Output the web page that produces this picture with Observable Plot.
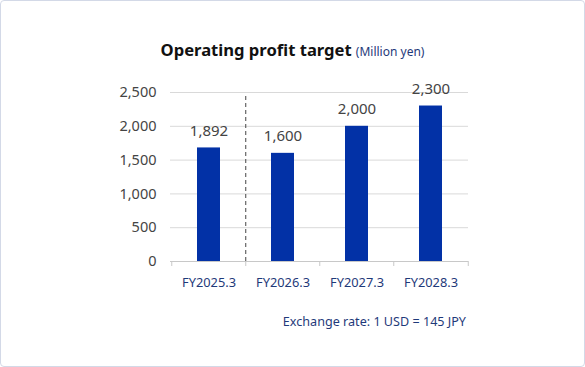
<!DOCTYPE html>
<html><head><meta charset="utf-8">
<script src="https://cdn.jsdelivr.net/npm/d3@7"></script>
<script src="https://cdn.jsdelivr.net/npm/@observablehq/plot@0.6"></script>
<style>
body{margin:0;background:#fff;}
#wrap{position:relative;width:585px;height:367px;overflow:hidden;font-family:"Noto Sans",sans-serif;background:#fff;}
#frame{position:absolute;left:0;top:0;width:585px;height:367px;border:1px solid #d3d9e7;border-radius:4px;box-sizing:border-box;pointer-events:none;}
#chart{position:absolute;left:0;top:0;}
#title{position:absolute;left:0;width:585px;top:38px;text-align:center;white-space:nowrap;line-height:24px;}
#title .main{font-weight:bold;font-size:16.6px;color:#111;}
#title .unit{font-size:12px;color:#1f3a7a;}
#caption{position:absolute;right:119px;top:312px;font-size:12.6px;color:#1f3a7a;line-height:20px;white-space:nowrap;}
</style>
</head><body>
<div id="wrap">
  <div id="chart"></div>
  <div id="title"><span class="main">Operating profit target</span> <span class="unit">(Million yen)</span></div>
  <div id="caption">Exchange rate: 1 USD = 145 JPY</div>
  <div id="frame"></div>
</div>
<script>
const categories = ["FY2025.3", "FY2026.3", "FY2027.3", "FY2028.3"];
const values = [1680, 1600, 2000, 2300];
const valueLabels = ["1,892", "1,600", "2,000", "2,300"];
const yTicks = [0, 500, 1000, 1500, 2000, 2500];
const splitCategory = "FY2026.3";

const data = categories.map((c, i) => ({cat: c, value: values[i], label: valueLabels[i]}));

const W = 585, H = 367, ML = 170, MR = 117, MT = 92, MB = 106;
const step = (W - ML - MR) / categories.length;

const chart = Plot.plot({
  width: W, height: H,
  marginTop: MT, marginBottom: MB, marginLeft: ML, marginRight: MR,
  x: {domain: categories, paddingInner: 0.69, paddingOuter: 0.345, label: null},
  y: {domain: [0, 2500], label: null},
  style: {fontFamily: "'Noto Sans', sans-serif", background: "transparent", overflow: "visible"},
  marks: [
    Plot.gridY(yTicks, {stroke: "#d9d9d9", strokeOpacity: 1}),
    Plot.ruleY([0], {stroke: "#c8c8c8"}),
    Plot.ruleX(categories, {x: d => d, dx: -step / 2, y1: 0, y2: 0, insetBottom: -5, stroke: "#c8c8c8"}),
    Plot.ruleX(categories.slice(-1), {x: d => d, dx: step / 2, y1: 0, y2: 0, insetBottom: -5, stroke: "#c8c8c8"}),
    Plot.barY(data, {x: "cat", y: "value", fill: "#0231a6"}),
    Plot.ruleX([splitCategory], {x: d => d, dx: -step / 2, y1: 0, y2: 2500, insetBottom: -3, stroke: "#444", strokeDasharray: "4,3"}),
    Plot.text(data, {x: "cat", y: "value", text: "label", dy: -17, fontSize: 15, fill: "#444"}),
    Plot.axisY({ticks: yTicks, tickSize: 0, tickPadding: 14, tickFormat: d3.format(","), fontSize: 14.5, fill: "#444"}),
    Plot.axisX({tickSize: 0, tickPadding: 16, fontSize: 12.8, fill: "#1f3a7a"})
  ]
});
document.getElementById("chart").appendChild(chart);
</script>
</body></html>
